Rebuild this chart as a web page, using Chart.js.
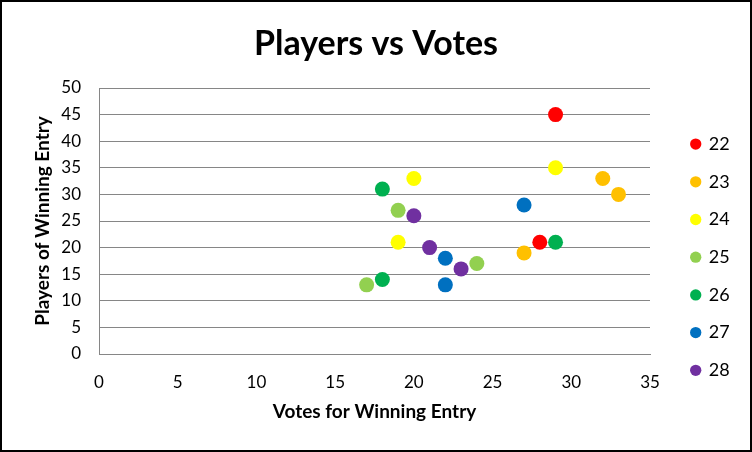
<!DOCTYPE html>
<html>
<head>
<meta charset="utf-8">
<script src="https://cdn.jsdelivr.net/npm/chart.js@4.4.1/dist/chart.umd.min.js"></script>
<style>
  html, body { margin: 0; padding: 0; background: #fff; }
  #wrap { width: 752px; height: 452px; }
</style>
</head>
<body>
<div id="wrap"><canvas id="chart" width="752" height="452"></canvas></div>
<script>
// series names (legend) and their colours
const seriesNames = ["22", "23", "24", "25", "26", "27", "28"];
const seriesColors = ["#FF0000", "#FFC000", "#FFFF00", "#92D050", "#00B050", "#0070C0", "#7030A0"];

// votes for winning entry (x) per series
const votes22 = [29, 28];
const votes23 = [32, 33, 27];
const votes24 = [20, 29, 19];
const votes25 = [19, 17, 24];
const votes26 = [18, 18, 29];
const votes27 = [27, 22, 22];
const votes28 = [20, 21, 23];

// players of winning entry (y) per series
const players22 = [45, 21];
const players23 = [33, 30, 19];
const players24 = [33, 35, 21];
const players25 = [27, 13, 17];
const players26 = [31, 14, 21];
const players27 = [28, 18, 13];
const players28 = [26, 20, 16];

const allVotes = [votes22, votes23, votes24, votes25, votes26, votes27, votes28];
const allPlayers = [players22, players23, players24, players25, players26, players27, players28];

const FONT = "Lato, 'Open Sans', sans-serif";
const GRID = "#868686";

const datasets = seriesNames.map((name, i) => ({
    label: name,
    data: allVotes[i].map((v, j) => ({ x: v, y: allPlayers[i][j] })),
    backgroundColor: seriesColors[i],
    borderColor: seriesColors[i],
    pointRadius: 7.5,
    pointHoverRadius: 7.5,
    pointBorderWidth: 0,
    showLine: false,
}));

// outer black frame of the chart
const frame = {
    id: "frame",
    afterDraw(chart) {
        const ctx = chart.ctx;
        ctx.save();
        ctx.strokeStyle = "#000";
        ctx.lineWidth = 2;
        ctx.strokeRect(1, 1, chart.width - 2, chart.height - 2);
        ctx.restore();
    },
};

// fixed legend width so the plot area lines up
const legendWidth = {
    id: "legendWidth",
    afterInit(chart) {
        const lg = chart.legend;
        const fit = lg.fit;
        lg.fit = function () {
            fit.call(this);
            this.width = 80;
        };
    },
};

new Chart(document.getElementById("chart"), {
    type: "scatter",
    data: { datasets },
    plugins: [legendWidth, frame],
    options: {
        responsive: false,
        animation: false,
        layout: { padding: 0 },
        plugins: {
            tooltip: { enabled: false },
            title: {
                display: true,
                text: "Players vs Votes",
                color: "#000",
                font: { family: FONT, size: 34, weight: "bold" },
                padding: { top: 23.6, bottom: 23.6 },
            },
            legend: {
                position: "right",
                align: "start",
                title: { display: true, text: " ", font: { size: 12 }, padding: { top: 0, bottom: 101 } },
                labels: {
                    usePointStyle: true,
                    pointStyle: "circle",
                    boxWidth: 8,
                    boxHeight: 8,
                    padding: 19.7,
                    color: "#000",
                    font: { family: FONT, size: 18 },
                },
            },
        },
        scales: {
            x: {
                type: "linear",
                min: 0,
                max: 35,
                afterFit(s) { s.height = 98; },
                ticks: { stepSize: 5, padding: 18, color: "#000", font: { family: FONT, size: 17 } },
                grid: { display: false, drawTicks: false },
                border: { display: true, color: GRID, width: 1 },
                title: {
                    display: true,
                    text: "Votes for Winning Entry",
                    color: "#000",
                    font: { family: FONT, size: 19, weight: "bold" },
                    padding: { top: 0, bottom: 29 },
                },
            },
            y: {
                type: "linear",
                min: 0,
                max: 50,
                afterFit(s) { s.width = 99; },
                ticks: { stepSize: 5, padding: 18, color: "#000", font: { family: FONT, size: 17 } },
                grid: { color: GRID, lineWidth: 1, drawTicks: false },
                border: { display: true, color: GRID, width: 1 },
                title: {
                    display: true,
                    text: "Players of Winning Entry",
                    color: "#000",
                    font: { family: FONT, size: 19, weight: "bold" },
                    padding: { top: 31, bottom: 0 },
                },
            },
            // empty spacer between plot area and legend
            spacer: {
                type: "linear",
                position: "right",
                display: true,
                afterFit(s) { s.width = 22; },
                ticks: { display: false },
                grid: { display: false, drawTicks: false },
                border: { display: false },
            },
        },
    },
});
</script>
</body>
</html>
